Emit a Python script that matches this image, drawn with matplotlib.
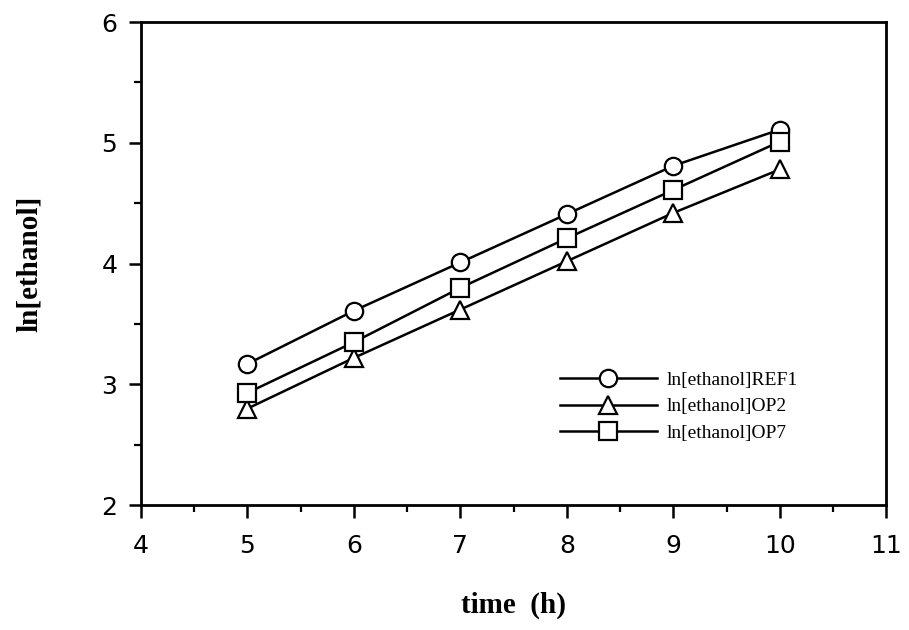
import numpy as np
import matplotlib.pyplot as plt
from matplotlib.ticker import MultipleLocator

# time points (h) and log ethanol concentrations for each run
time_h = [5, 6, 7, 8, 9, 10]
ln_ref1 = [3.17, 3.61, 4.01, 4.41, 4.81, 5.11]
ln_op2 = [2.80, 3.22, 3.62, 4.02, 4.42, 4.78]
ln_op7 = [2.93, 3.35, 3.80, 4.21, 4.61, 5.01]
labels = ["ln[ethanol]REF1", "ln[ethanol]OP2", "ln[ethanol]OP7"]

fig = plt.figure(figsize=(9.09, 6.3), dpi=100)
ax = fig.add_axes([0.155, 0.198, 0.82, 0.767])

style = dict(color="black", lw=1.8, ms=12.5, mfc="white", mec="black", mew=1.6)
ax.plot(time_h, ln_ref1, marker="o", label=labels[0], **style)
ax.plot(time_h, ln_op2, marker="^", label=labels[1], **style)
ax.plot(time_h, ln_op7, marker="s", label=labels[2], **style)

ax.set_xlim(4, 11)
ax.set_ylim(2, 6)
ax.xaxis.set_major_locator(MultipleLocator(1))
ax.xaxis.set_minor_locator(MultipleLocator(0.5))
ax.yaxis.set_major_locator(MultipleLocator(1))
ax.yaxis.set_minor_locator(MultipleLocator(0.5))
ax.tick_params(which="major", direction="out", length=9, width=1.8,
               labelsize=18, pad=8)
ax.tick_params(axis="x", which="major", pad=12)
ax.tick_params(which="minor", direction="out", length=5, width=1.6)
for lab in ax.get_xticklabels() + ax.get_yticklabels():
    lab.set_family("DejaVu Sans")
for sp in ax.spines.values():
    sp.set_linewidth(2)

ax.set_xlabel("time  (h)", fontsize=21, fontweight="bold",
              family="Liberation Serif", labelpad=24)
ax.set_ylabel("ln[ethanol]", fontsize=21, fontweight="bold",
              family="Liberation Serif", labelpad=42)

leg = ax.legend(loc="lower right", bbox_to_anchor=(0.905, 0.095), frameon=False,
                handlelength=5.0, handletextpad=0.5, labelspacing=0.45,
                prop={"family": "Liberation Serif", "size": 14})

fig.savefig("out.png", dpi=100)
